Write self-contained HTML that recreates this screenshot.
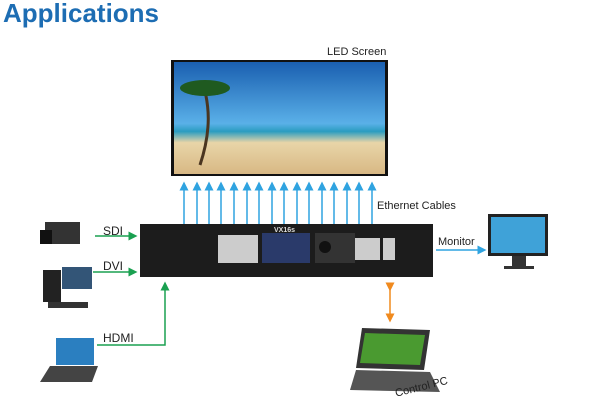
<!DOCTYPE html>
<html><head><style>
body{margin:0;width:600px;height:409px;background:#fff;overflow:hidden;position:relative;font-family:"Liberation Sans",sans-serif}
.t{position:absolute;font-size:11px;color:#222}
</style></head><body>
<div style="position:absolute;left:3px;top:-2px;font-size:26px;font-weight:bold;color:#1d6db3">Applications</div>
<div class="t" style="left:327px;top:46px">LED Screen</div>
<svg width="600" height="409" style="position:absolute;left:0;top:0">
<defs>
<linearGradient id="sky" x1="0" y1="0" x2="0" y2="1"><stop offset="0" stop-color="#1a5fb0"/><stop offset="0.55" stop-color="#5ab0e8"/><stop offset="0.62" stop-color="#2a9cc0"/><stop offset="0.72" stop-color="#e8d5a8"/><stop offset="1" stop-color="#d8b884"/></linearGradient>
<marker id="b" markerWidth="6" markerHeight="6" refX="3" refY="3" orient="auto"><path d="M0,0L6,3L0,6z" fill="#2fa3e0"/></marker>
<marker id="g" markerWidth="6" markerHeight="6" refX="3" refY="3" orient="auto"><path d="M0,0L6,3L0,6z" fill="#1aa050"/></marker>
<marker id="o" markerWidth="6" markerHeight="6" refX="3" refY="3" orient="auto"><path d="M0,0L6,3L0,6z" fill="#f08a1e"/></marker>
</defs>
<rect x="171" y="60" width="217" height="116" fill="#111"/>
<rect x="174" y="62" width="211" height="112" fill="url(#sky)"/>
<path d="M200,165 C215,120 205,95 205,90" stroke="#4a3520" stroke-width="3" fill="none"/>
<ellipse cx="205" cy="88" rx="25" ry="8" fill="#1f5a20"/>
<g stroke="#2fa3e0" stroke-width="1.5" marker-end="url(#b)">
<line x1="184" y1="225" x2="184" y2="186"/><line x1="197" y1="225" x2="197" y2="186"/><line x1="209" y1="225" x2="209" y2="186"/><line x1="221" y1="225" x2="221" y2="186"/><line x1="234" y1="225" x2="234" y2="186"/><line x1="247" y1="225" x2="247" y2="186"/><line x1="259" y1="225" x2="259" y2="186"/><line x1="272" y1="225" x2="272" y2="186"/><line x1="284" y1="225" x2="284" y2="186"/><line x1="297" y1="225" x2="297" y2="186"/><line x1="309" y1="225" x2="309" y2="186"/><line x1="322" y1="225" x2="322" y2="186"/><line x1="334" y1="225" x2="334" y2="186"/><line x1="347" y1="225" x2="347" y2="186"/><line x1="359" y1="225" x2="359" y2="186"/><line x1="372" y1="225" x2="372" y2="186"/>
<line x1="436" y1="250" x2="482" y2="250"/>
</g>
<rect x="140" y="224" width="293" height="53" fill="#1c1c1c"/>
<rect x="218" y="235" width="40" height="28" fill="#ccc"/>
<rect x="262" y="233" width="48" height="30" fill="#2a3a6a"/>
<rect x="315" y="233" width="40" height="30" fill="#333"/><circle cx="325" cy="247" r="6" fill="#111"/>
<rect x="355" y="238" width="25" height="22" fill="#ccc"/><rect x="383" y="238" width="12" height="22" fill="#ccc"/>
<text x="274" y="232" fill="#ddd" font-size="7" font-weight="bold" font-family="Liberation Sans">VX16s</text>
<g stroke="#1aa050" stroke-width="1.5" fill="none" marker-end="url(#g)">
<line x1="95" y1="236" x2="133" y2="236"/><line x1="93" y1="272" x2="133" y2="272"/>
<polyline points="97,345 165,345 165,286"/>
</g>
<line x1="390" y1="287" x2="390" y2="318" stroke="#f08a1e" stroke-width="1.5" marker-end="url(#o)" marker-start="url(#o)"/>
<rect x="45" y="222" width="35" height="22" fill="#333"/><rect x="40" y="230" width="12" height="14" fill="#111"/>
<rect x="43" y="270" width="18" height="32" fill="#222"/><rect x="62" y="267" width="30" height="22" fill="#335577"/><rect x="48" y="302" width="40" height="6" fill="#333"/>
<rect x="56" y="338" width="38" height="27" fill="#2b7fc0"/><path d="M50,366L98,366L92,382L40,382z" fill="#444"/>
<rect x="488" y="214" width="60" height="42" fill="#222"/><rect x="491" y="217" width="54" height="36" fill="#3fa2d8"/><rect x="512" y="256" width="14" height="10" fill="#333"/><rect x="504" y="266" width="30" height="3" fill="#333"/>
<path d="M362,328L430,330L424,370L356,368z" fill="#333"/><path d="M365,333L425,335L420,365L360,363z" fill="#4a9a30"/><path d="M356,370L430,372L440,392L350,390z" fill="#555"/>
</svg>
<div class="t" style="left:377px;top:200px">Ethernet Cables</div>
<div class="t" style="left:438px;top:236px">Monitor</div>
<div class="t" style="left:103px;top:224px;font-size:12px">SDI</div>
<div class="t" style="left:103px;top:259px;font-size:12px">DVI</div>
<div class="t" style="left:103px;top:331px;font-size:12px">HDMI</div>
<div class="t" style="left:394px;top:388px;transform:rotate(-14deg);transform-origin:left top">Control PC</div>
</body></html>
